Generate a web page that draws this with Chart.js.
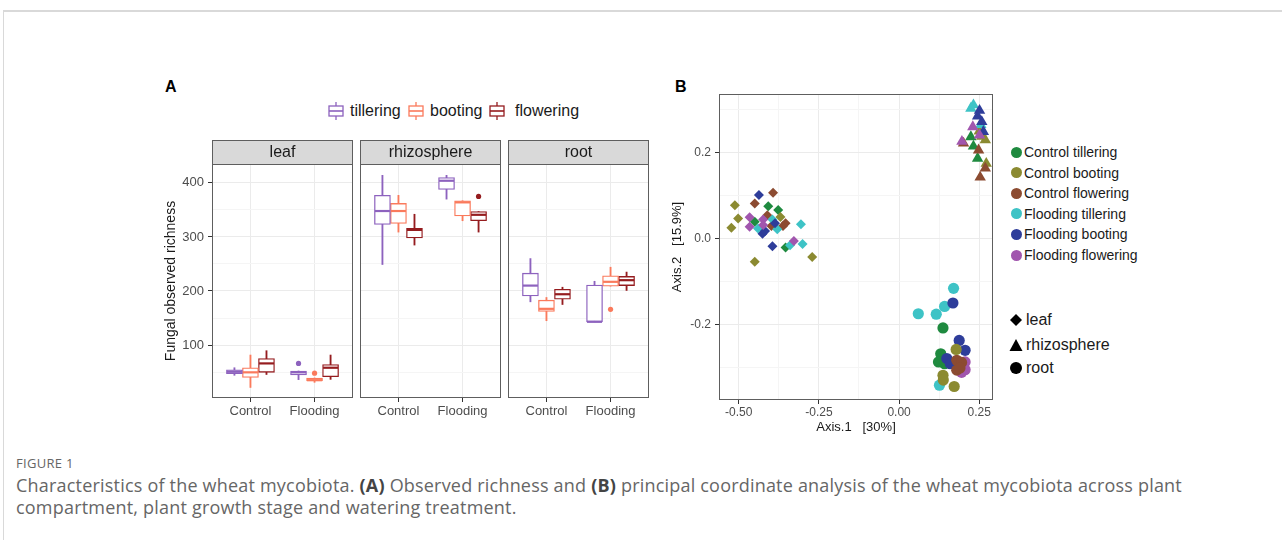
<!DOCTYPE html>
<html>
<head>
<meta charset="utf-8">
<title>Figure 1</title>
<script src="https://cdn.jsdelivr.net/npm/chart.js@4.4.1/dist/chart.umd.min.js"></script>
<style>
  body { margin:0; width:1282px; height:540px; overflow:hidden; background:#fff; position:relative;
         font-family:"Liberation Sans", Arial, sans-serif; color:#1a1a1a; }
  .frame { position:absolute; left:3px; top:10px; width:1279px; height:530px;
           border-top:2px solid #d9d9d9; border-left:1px solid #d9d9d9; }
  canvas, .abs { position:absolute; }
  .tag { font-weight:bold; font-size:16px; color:#000; }
  .legA { font-size:16px; line-height:18px; white-space:nowrap; }
  .legB { font-size:14px; line-height:16px; white-space:nowrap; }
  .legS { font-size:16px; line-height:18px; white-space:nowrap; }
  .dot { width:11px; height:11px; border-radius:50%; }
  .cap { font-family:"Open Sans", sans-serif; color:#666; white-space:nowrap; }
  .cap b { color:#444; }
</style>
</head>
<body>
<div class="frame"></div>

<div class="abs tag" style="left:165px;top:78px">A</div>
<div class="abs tag" style="left:675px;top:78px">B</div>

<div id="legendA"></div>

<canvas id="leaf" width="195" height="285" style="left:160px;top:140px"></canvas>
<canvas id="rhizosphere" width="143" height="285" style="left:360px;top:140px"></canvas>
<canvas id="root" width="143" height="285" style="left:508px;top:140px"></canvas>

<canvas id="pcoa" width="327" height="346" style="left:668px;top:90px"></canvas>

<div id="legendB"></div>

<div class="abs cap" style="left:16px;top:454px;font-size:13px;letter-spacing:0.3px">FIGURE 1</div>
<div class="abs cap" style="left:16px;top:474px;font-size:18px;line-height:22px;letter-spacing:0.2px">Characteristics of the wheat mycobiota. <b>(A)</b> Observed richness and <b>(B)</b> principal coordinate analysis of the wheat mycobiota across plant<br>compartment, plant growth stage and watering treatment.</div>

<script>
Chart.defaults.font.family = '"Liberation Sans", Arial, sans-serif';

// ---- panel A data ----
const stageNames = ['tillering', 'booting', 'flowering'];
const stageColors = ['#8d62be', '#fa7a5c', '#951c1f'];
const treatmentLabels = ['Control', 'Flooding'];
const richnessTicks = [50, 100, 150, 200, 250, 300, 350, 400];

// [lower whisker, Q1, median, Q3, upper whisker] for Control, Flooding
const leafTillering = [[44, 47, 50.5, 54, 58], [36, 44.5, 49.5, 52, 52]];
const leafBooting = [[21.5, 40, 49.5, 58, 81.5], [31, 33.5, 35, 39, 39]];
const leafFlowering = [[45.5, 49.5, 66, 75, 89.5], [36.5, 41.5, 58, 64, 81.5]];
const rhizTillering = [[249, 323, 348, 377, 414], [370, 388, 404, 410, 414]];
const rhizBooting = [[309, 325, 348, 362, 377], [330, 339, 364, 367, 367]];
const rhizFlowering = [[285, 298, 313, 316, 342], [309, 330, 341, 347, 347]];
const rootTillering = [[180, 191, 210, 233, 260], [143, 143, 143, 211, 218]];
const rootBooting = [[145, 162, 167, 183, 188], [209, 209, 217, 228, 244]];
const rootFlowering = [[175, 185, 194, 203, 207], [201, 210, 220, 227, 235]];

const leafOutliers = [['tillering', 'Flooding', 66], ['booting', 'Flooding', 48]];
const rhizOutliers = [['flowering', 'Flooding', 375]];
const rootOutliers = [['booting', 'Flooding', 166]];

// ---- panel B data ----
const groupNames = ['Control tillering', 'Control booting', 'Control flowering',
                    'Flooding tillering', 'Flooding booting', 'Flooding flowering'];
const groupColors = ['#1f8a3f', '#8b8a31', '#8c4b31', '#3ec3c6', '#2e3d9a', '#a156ae'];

const leafCT = [[-0.408, 0.076], [-0.377, 0.067], [-0.354, -0.020], [-0.450, 0.040]];
const leafCB = [[-0.512, 0.078], [-0.502, 0.047], [-0.523, 0.026], [-0.450, -0.053], [-0.370, 0.051], [-0.271, -0.042]];
const leafCF = [[-0.393, 0.107], [-0.450, 0.082], [-0.411, 0.055], [-0.398, 0.030], [-0.354, 0.036], [-0.362, 0.030]];
const leafFT = [[-0.306, 0.034], [-0.301, -0.012], [-0.340, -0.015], [-0.380, 0.022], [-0.440, 0.024], [-0.395, 0.045]];
const leafFB = [[-0.437, 0.102], [-0.426, 0.012], [-0.395, -0.017], [-0.387, 0.036], [-0.418, 0.018]];
const leafFF = [[-0.466, 0.050], [-0.466, 0.028], [-0.424, 0.045], [-0.424, 0.032], [-0.328, -0.005]];

const rhizCT = [[0.224, 0.237], [0.245, 0.187], [0.232, 0.215]];
const rhizCB = [[0.258, 0.238], [0.269, 0.230], [0.272, 0.175], [0.250, 0.250]];
const rhizCF = [[0.201, 0.222], [0.248, 0.206], [0.269, 0.164], [0.253, 0.143]];
const rhizFT = [[0.232, 0.311], [0.224, 0.303], [0.255, 0.265]];
const rhizFB = [[0.251, 0.298], [0.258, 0.272], [0.263, 0.249], [0.245, 0.285]];
const rhizFF = [[0.230, 0.260], [0.251, 0.241], [0.196, 0.226]];

const rootCT = [[0.137, -0.207], [0.130, -0.267], [0.123, -0.286], [0.142, -0.290]];
const rootCB = [[0.178, -0.257], [0.137, -0.317], [0.138, -0.328], [0.172, -0.343]];
const rootCF = [[0.180, -0.282], [0.195, -0.287], [0.180, -0.305], [0.190, -0.300]];
const rootFT = [[0.170, -0.115], [0.060, -0.174], [0.116, -0.175], [0.142, -0.157], [0.126, -0.340]];
const rootFB = [[0.168, -0.149], [0.1875, -0.236], [0.206, -0.259], [0.149, -0.278], [0.160, -0.290]];
const rootFF = [[0.206, -0.286], [0.206, -0.304], [0.195, -0.310]];

const axis1Breaks = [-0.5, -0.25, 0, 0.25];
const axis1Labels = ['-0.50', '-0.25', '0.00', '0.25'];
const axis1Minor = [-0.375, -0.125, 0.125];
const axis2Breaks = [-0.2, 0, 0.2];
const axis2Labels = ['-0.2', '0.0', '0.2'];
const axis2Minor = [-0.3, -0.1, 0.1, 0.3];

// ---- plugins ----
const panelBorder = {
  id: 'panelBorder',
  afterDraw(chart) {
    const {ctx, chartArea: a} = chart;
    ctx.save();
    ctx.strokeStyle = '#5e5e5e';
    ctx.lineWidth = 1;
    ctx.strokeRect(Math.round(a.left) + 0.5, Math.round(a.top) + 0.5,
                   Math.round(a.right - a.left) - 1, Math.round(a.bottom - a.top) - 1);
    ctx.restore();
  }
};

const facetStrip = {
  id: 'facetStrip',
  afterDraw(chart, args, opts) {
    if (!opts.text) return;
    const {ctx, chartArea: a} = chart;
    const l = Math.round(a.left), t = Math.round(a.top) - 24, w = Math.round(a.right - a.left);
    ctx.save();
    ctx.fillStyle = '#d9d9d9';
    ctx.fillRect(l, t, w, 24);
    ctx.strokeStyle = '#5e5e5e';
    ctx.strokeRect(l + 0.5, t + 0.5, w - 1, 24);
    ctx.fillStyle = '#1a1a1a';
    ctx.font = '16px "Liberation Sans", Arial, sans-serif';
    ctx.textAlign = 'center';
    ctx.textBaseline = 'middle';
    ctx.fillText(opts.text, l + w / 2, t + 13);
    ctx.restore();
  }
};

// keep the plot area exactly where the canvas layout puts it
function fixBox(size) {
  return s => {
    if (s.isHorizontal()) s.height = size; else s.width = size;
    s.paddingLeft = 0; s.paddingRight = 0; s.paddingTop = 0; s.paddingBottom = 0;
  };
}

// ---- panel A ----
function facetDatasets(stageStats, outliers) {
  const sets = [];
  stageStats.forEach((stats, s) => {
    const col = stageColors[s];
    const off = (s - 1) * 0.25;
    sets.push({ type: 'bar', order: 4, grouped: false, barThickness: 1.2,
      backgroundColor: col, borderWidth: 0,
      data: stats.map((b, t) => ({ x: t + 1 + off, y: [b[0], b[4]] })) });
    sets.push({ type: 'bar', order: 3, grouped: false, barThickness: 16,
      backgroundColor: '#fff', borderColor: col, borderWidth: 1.3, borderSkipped: false,
      data: stats.map((b, t) => ({ x: t + 1 + off, y: [b[1], b[3]] })) });
    sets.push({ type: 'scatter', order: 2, pointStyle: 'line', pointRadius: 7.5,
      pointBorderColor: col, pointBorderWidth: 2.2,
      data: stats.map((b, t) => ({ x: t + 1 + off, y: b[2] })) });
    const outs = outliers.filter(o => o[0] === stageNames[s]);
    sets.push({ type: 'scatter', order: 1, pointStyle: 'circle', pointRadius: 2.6,
      pointBackgroundColor: col, pointBorderColor: col, pointBorderWidth: 0,
      data: outs.map(o => ({ x: treatmentLabels.indexOf(o[1]) + 1 + off, y: o[2] })) });
  });
  return sets;
}

function makeFacet(id, name, stageStats, outliers, showY) {
  new Chart(document.getElementById(id), {
    type: 'bar',
    data: { datasets: facetDatasets(stageStats, outliers) },
    options: {
      responsive: false, animation: false, events: [],
      layout: { autoPadding: false, padding: { top: 24, right: 2, left: 0, bottom: 0 } },
      plugins: { legend: { display: false }, tooltip: { enabled: false }, facetStrip: { text: name } },
      scales: {
        x: {
          type: 'linear', min: 0.4, max: 2.6, offset: false,
          afterBuildTicks: s => { s.ticks = [{ value: 1 }, { value: 2 }]; },
          afterFit: fixBox(27),
          ticks: { autoSkip: false, maxRotation: 0, padding: 2, color: '#4d4d4d', font: { size: 13 },
                   callback: v => treatmentLabels[v - 1] },
          grid: { offset: false, color: '#ebebeb', lineWidth: 1, tickLength: 4, tickColor: '#333' },
          border: { display: false }
        },
        y: {
          min: 2, max: 435,
          afterBuildTicks: s => { s.ticks = richnessTicks.map(v => ({ value: v })); },
          afterFit: fixBox(showY ? 52 : 0),
          ticks: { display: showY, padding: 4, color: '#4d4d4d', font: { size: 13 },
                   callback: v => (v % 100 === 0 ? v : '') },
          grid: {
            color: c => (c.tick && c.tick.value % 100 === 0 ? '#ebebeb' : '#f5f5f5'),
            drawTicks: showY, tickLength: 4,
            tickColor: c => (c.tick && c.tick.value % 100 === 0 ? '#333' : 'rgba(0,0,0,0)')
          },
          border: { display: false },
          title: { display: showY, text: 'Fungal observed richness', color: '#1a1a1a',
                   font: { size: 14 }, padding: { top: 3, bottom: 0 } }
        }
      }
    },
    plugins: [facetStrip, panelBorder]
  });
}

makeFacet('leaf', 'leaf', [leafTillering, leafBooting, leafFlowering], leafOutliers, true);
makeFacet('rhizosphere', 'rhizosphere', [rhizTillering, rhizBooting, rhizFlowering], rhizOutliers, false);
makeFacet('root', 'root', [rootTillering, rootBooting, rootFlowering], rootOutliers, false);

// legend A
const legendA = document.getElementById('legendA');
const legAPos = [[328, 350], [408, 430], [489, 515]];
stageNames.forEach((n, i) => {
  const c = stageColors[i];
  legendA.insertAdjacentHTML('beforeend',
    `<svg class="abs" style="left:${legAPos[i][0]}px;top:102px" width="16" height="18">
       <line x1="8" y1="0" x2="8" y2="18" stroke="${c}" stroke-width="1.3"/>
       <rect x="1" y="4" width="14" height="10" fill="#fff" stroke="${c}" stroke-width="1.3"/>
       <line x1="1" y1="9" x2="15" y2="9" stroke="${c}" stroke-width="1.6"/>
     </svg>
     <div class="abs legA" style="left:${legAPos[i][1]}px;top:102px">${n}</div>`);
});

// ---- panel B ----
// layering: group indices from bottom to top
const compartments = [
  { style: 'rectRot', radius: 5, layers: [0, 1, 2, 3, 4, 5],
    groups: [leafCT, leafCB, leafCF, leafFT, leafFB, leafFF] },
  { style: 'triangle', radius: 6.6, layers: [0, 1, 2, 3, 4, 5],
    groups: [rhizCT, rhizCB, rhizCF, rhizFT, rhizFB, rhizFF] },
  { style: 'circle', radius: 5.6, layers: [3, 0, 4, 5, 2, 1],
    groups: [rootCT, rootCB, rootCF, rootFT, rootFB, rootFF] }
];
const pcoaSets = [];
compartments.forEach(comp => {
  comp.layers.forEach(g => {
    pcoaSets.push({
      label: groupNames[g],
      order: -pcoaSets.length,
      pointStyle: comp.style, pointRadius: comp.radius,
      pointBackgroundColor: groupColors[g], pointBorderWidth: 0, pointBorderColor: groupColors[g],
      data: comp.groups[g].map(p => ({ x: p[0], y: p[1] }))
    });
  });
});

const gridColor = (breaks) => c => (c.tick && breaks.includes(c.tick.value) ? '#ebebeb' : '#f5f5f5');
const tickCol = (breaks) => c => (c.tick && breaks.includes(c.tick.value) ? '#333' : 'rgba(0,0,0,0)');

new Chart(document.getElementById('pcoa'), {
  type: 'scatter',
  data: { datasets: pcoaSets },
  options: {
    responsive: false, animation: false, events: [],
    layout: { autoPadding: false, padding: { top: 4, right: 2, left: 0, bottom: 0 } },
    plugins: { legend: { display: false }, tooltip: { enabled: false } },
    scales: {
      x: {
        min: -0.5616, max: 0.293,
        afterBuildTicks: s => { s.ticks = axis1Breaks.concat(axis1Minor).sort((a, b) => a - b).map(v => ({ value: v })); },
        afterFit: fixBox(36),
        ticks: { autoSkip: false, maxRotation: 0, padding: 1, color: '#4d4d4d', font: { size: 12 },
                 callback: v => { const i = axis1Breaks.indexOf(v); return i >= 0 ? axis1Labels[i] : ''; } },
        grid: { color: gridColor(axis1Breaks), tickLength: 4, tickColor: tickCol(axis1Breaks) },
        border: { display: false },
        title: { display: true, text: 'Axis.1   [30%]', color: '#1a1a1a', font: { size: 13 }, padding: { top: 0, bottom: 1 } }
      },
      y: {
        min: -0.3744, max: 0.3365,
        afterBuildTicks: s => { s.ticks = axis2Breaks.concat(axis2Minor).sort((a, b) => a - b).map(v => ({ value: v })); },
        afterFit: fixBox(51),
        ticks: { autoSkip: false, padding: 4, color: '#4d4d4d', font: { size: 12 },
                 callback: v => { const i = axis2Breaks.indexOf(v); return i >= 0 ? axis2Labels[i] : ''; } },
        grid: { color: gridColor(axis2Breaks), tickLength: 4, tickColor: tickCol(axis2Breaks) },
        border: { display: false },
        title: { display: true, text: 'Axis.2   [15.9%]', color: '#1a1a1a', font: { size: 13 }, padding: { top: 2, bottom: 0 } }
      }
    }
  },
  plugins: [panelBorder]
});

// legend B
const legendB = document.getElementById('legendB');
groupNames.forEach((n, i) => {
  const y = 152 + i * 20.6;
  legendB.insertAdjacentHTML('beforeend',
    `<div class="abs dot" style="left:1011px;top:${y - 5.5}px;background:${groupColors[i]}"></div>
     <div class="abs legB" style="left:1024px;top:${y - 8}px">${n}</div>`);
});
const shapeLegend = [
  ['leaf', '<polygon points="6,0 12,6 6,12 0,6" fill="#000"/>', 320],
  ['rhizosphere', '<polygon points="6,0 12.5,12 -0.5,12" fill="#000"/>', 345],
  ['root', '<circle cx="6" cy="6" r="6" fill="#000"/>', 368]
];
shapeLegend.forEach(s => {
  legendB.insertAdjacentHTML('beforeend',
    `<svg class="abs" style="left:1010px;top:${s[2] - 6}px;overflow:visible" width="12" height="12">${s[1]}</svg>
     <div class="abs legS" style="left:1026px;top:${s[2] - 9}px">${s[0]}</div>`);
});
</script>
</body>
</html>
